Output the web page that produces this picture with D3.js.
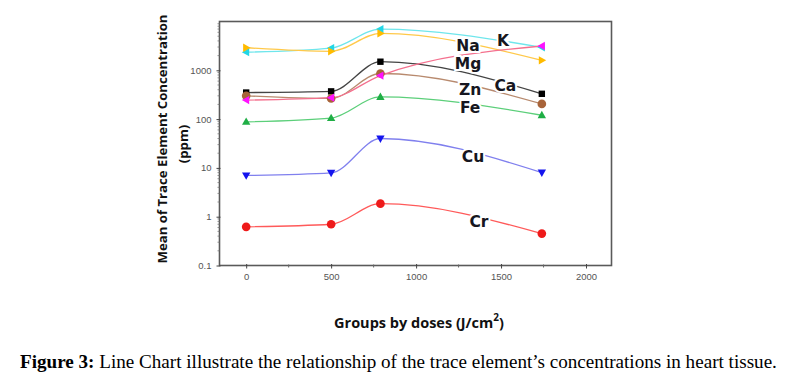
<!DOCTYPE html>
<html>
<head>
<meta charset="utf-8">
<script src="https://cdn.jsdelivr.net/npm/d3@7"></script>
<style>
  html, body { margin: 0; padding: 0; background: #fff; }
  svg { display: block; }
</style>
</head>
<body>
<svg id="chart" width="787" height="380"></svg>
<script>
// ---- data ----
const doses = [0, 500, 790, 1740];
const elements = ["K", "Na", "Mg", "Ca", "Zn", "Fe", "Cu", "Cr"];
const valK  = [2350, 2850, 7000, 2950];
const valNa = [2900, 2450, 5700, 1600];
const valMg = [245, 275, 780, 3150];
const valCa = [350, 370, 1500, 330];
const valZn = [300, 265, 860, 205];
const valFe = [88, 105, 285, 120];
const valCu = [7.0, 7.9, 40, 8.0];
const valCr = [0.62, 0.70, 1.85, 0.45];
const xTicks = [0, 500, 1000, 1500, 2000];
const yTicks = [0.1, 1, 10, 100, 1000];
const yTickLabels = ["0.1", "1", "10", "100", "1000"];
// label anchor points in data coordinates [dose, value]
const labelX = [1512, 1306, 1306, 1525, 1318, 1318, 1335, 1370];
const labelY = [3950, 3100, 1330, 467, 390, 167, 16.8, 0.766];

const valuesBy = { K: valK, Na: valNa, Mg: valMg, Ca: valCa, Zn: valZn, Fe: valFe, Cu: valCu, Cr: valCr };
const style = {
  K:  { line: "#6fe6ec", fill: "#22d6e6", shape: "left" },
  Na: { line: "#ffc94a", fill: "#ffbb00", shape: "right" },
  Mg: { line: "#f4708e", fill: "#ff10ff", shape: "left" },
  Ca: { line: "#444444", fill: "#000000", shape: "square" },
  Zn: { line: "#b88a6e", fill: "#a8643a", shape: "circle" },
  Fe: { line: "#5ccf7a", fill: "#1fae45", shape: "up" },
  Cu: { line: "#8080ee", fill: "#1414ee", shape: "down" },
  Cr: { line: "#ff5a5a", fill: "#ee1a1a", shape: "circle" }
};

const svg = d3.select("#chart");
const x = d3.scaleLinear().domain([-157, 2150]).range([219.5, 611.5]);
const y = d3.scaleLog().domain([0.1, 10000]).range([265.5, 21.5]);

const g = svg.append("g");

// frame
g.append("rect")
  .attr("x", x.range()[0]).attr("y", y.range()[1])
  .attr("width", x.range()[1] - x.range()[0])
  .attr("height", y.range()[0] - y.range()[1])
  .attr("fill", "none").attr("stroke", "#5a5a5a").attr("stroke-width", 1.6);

// x axis
const xAxis = d3.axisBottom(x).tickValues(xTicks).tickSize(3).tickFormat(d3.format("d"));
const xg = g.append("g").attr("transform", `translate(0,${y.range()[0]})`).call(xAxis);
xg.select(".domain").remove();
xg.selectAll(".tick line").attr("stroke", "#444").attr("y1", -1.5).attr("y2", 3);
xg.selectAll(".tick text").attr("fill", "#555").attr("font-size", 9.5).attr("dy", "0.85em")
  .attr("font-family", "Liberation Sans, Arial, sans-serif");
const xMinor = d3.range(250, 2150, 500);
g.append("g").selectAll("line").data(xMinor).join("line")
  .attr("x1", d => x(d)).attr("x2", d => x(d))
  .attr("y1", y.range()[0] - 1).attr("y2", y.range()[0] + 2)
  .attr("stroke", "#666").attr("stroke-width", 1);

// y axis
const yAxis = d3.axisLeft(y).tickValues(yTicks).tickSize(3)
  .tickFormat((d, i) => yTickLabels[i]);
const yg = g.append("g").attr("transform", `translate(${x.range()[0]},0)`).call(yAxis);
yg.select(".domain").remove();
yg.selectAll(".tick line").attr("stroke", "#444").attr("x2", -3).attr("x1", 1);
yg.selectAll(".tick text").attr("fill", "#555").attr("font-size", 9.5).attr("x", -8)
  .attr("font-family", "Liberation Sans, Arial, sans-serif");
const yMinor = [];
[0.1, 1, 10, 100, 1000].forEach(b => { for (let k = 2; k <= 9; k++) yMinor.push(b * k); });
g.append("g").selectAll("line").data(yMinor).join("line")
  .attr("x1", x.range()[0] - 2).attr("x2", x.range()[0])
  .attr("y1", d => y(d)).attr("y2", d => y(d))
  .attr("stroke", "#777").attr("stroke-width", 0.8);

// lines
const line = d3.line().x(d => x(d[0])).y(d => y(d[1])).curve(d3.curveMonotoneX);
const drawOrder = ["K", "Na", "Ca", "Zn", "Mg", "Fe", "Cu", "Cr"];
drawOrder.forEach(name => {
  const pts = doses.map((d, i) => [d, valuesBy[name][i]]);
  g.append("path").datum(pts).attr("d", line)
    .attr("fill", "none").attr("stroke", style[name].line).attr("stroke-width", 1.3);
});

// markers
function markerPath(shape, s) {
  const h = s;
  switch (shape) {
    case "square": return `M${-h},${-h}H${h}V${h}H${-h}Z`;
    case "up": return `M0,${-h * 1.15}L${h * 1.1},${h * 0.8}L${-h * 1.1},${h * 0.8}Z`;
    case "down": return `M0,${h * 1.15}L${h * 1.1},${-h * 0.8}L${-h * 1.1},${-h * 0.8}Z`;
    case "left": return `M${-h * 1.15},0L${h * 0.8},${-h * 1.1}L${h * 0.8},${h * 1.1}Z`;
    case "right": return `M${h * 1.15},0L${-h * 0.8},${-h * 1.1}L${-h * 0.8},${h * 1.1}Z`;
    default: return d3.symbol(d3.symbolCircle, Math.PI * h * h * 1.3)();
  }
}
drawOrder.forEach(name => {
  const pts = doses.map((d, i) => [d, valuesBy[name][i]]);
  const st = style[name];
  g.append("g").selectAll("path").data(pts).join("path")
    .attr("transform", d => `translate(${x(d[0])},${y(d[1])})`)
    .attr("d", markerPath(st.shape, st.shape === "square" ? 3.2 : 3.8))
    .attr("fill", st.fill);
});

// series labels
g.append("g").selectAll("text").data(elements).join("text")
  .attr("x", (d, i) => x(labelX[i])).attr("y", (d, i) => y(labelY[i]))
  .attr("text-anchor", "middle").attr("dominant-baseline", "central")
  .attr("font-family", "DejaVu Sans, sans-serif")
  .attr("font-weight", "bold").attr("font-size", 15.5)
  .attr("fill", "#161620")
  .attr("stroke", "#fff").attr("stroke-width", 4).attr("paint-order", "stroke")
  .text(d => d);

// y title
const yt = svg.append("text")
  .attr("transform", "translate(162,139) rotate(-90)")
  .attr("text-anchor", "middle").attr("dominant-baseline", "central")
  .attr("font-family", "Open Sans, sans-serif").attr("font-weight", "bold")
  .attr("font-size", 13.2).attr("fill", "#111");
yt.append("tspan").attr("x", 0).attr("y", 0).text("Mean of Trace Element Concentration");
yt.append("tspan").attr("x", -5).attr("y", 21).text("(ppm)");

// x title
const xt = svg.append("text")
  .attr("x", 419).attr("y", 322)
  .attr("text-anchor", "middle").attr("dominant-baseline", "central")
  .attr("font-family", "Open Sans, sans-serif").attr("font-weight", "bold")
  .attr("font-size", 14.5).attr("fill", "#111");
xt.append("tspan").text("Groups by doses (J/cm");
xt.append("tspan").text("2").attr("font-size", 10).attr("dy", -5);
xt.append("tspan").text(")").attr("dy", 5);

// caption
const cap = svg.append("text")
  .attr("x", 20).attr("y", 368)
  .attr("font-family", "Liberation Serif, Times New Roman, serif")
  .attr("font-size", 16).attr("fill", "#000");
cap.append("tspan").attr("font-weight", "bold").text("Figure 3:");
cap.append("tspan").text(" Line Chart illustrate the relationship of the trace element\u2019s concentrations in heart tissue.");
const capW = cap.node().getComputedTextLength();
cap.attr("font-size", 16 * 757 / capW);
</script>
</body>
</html>
